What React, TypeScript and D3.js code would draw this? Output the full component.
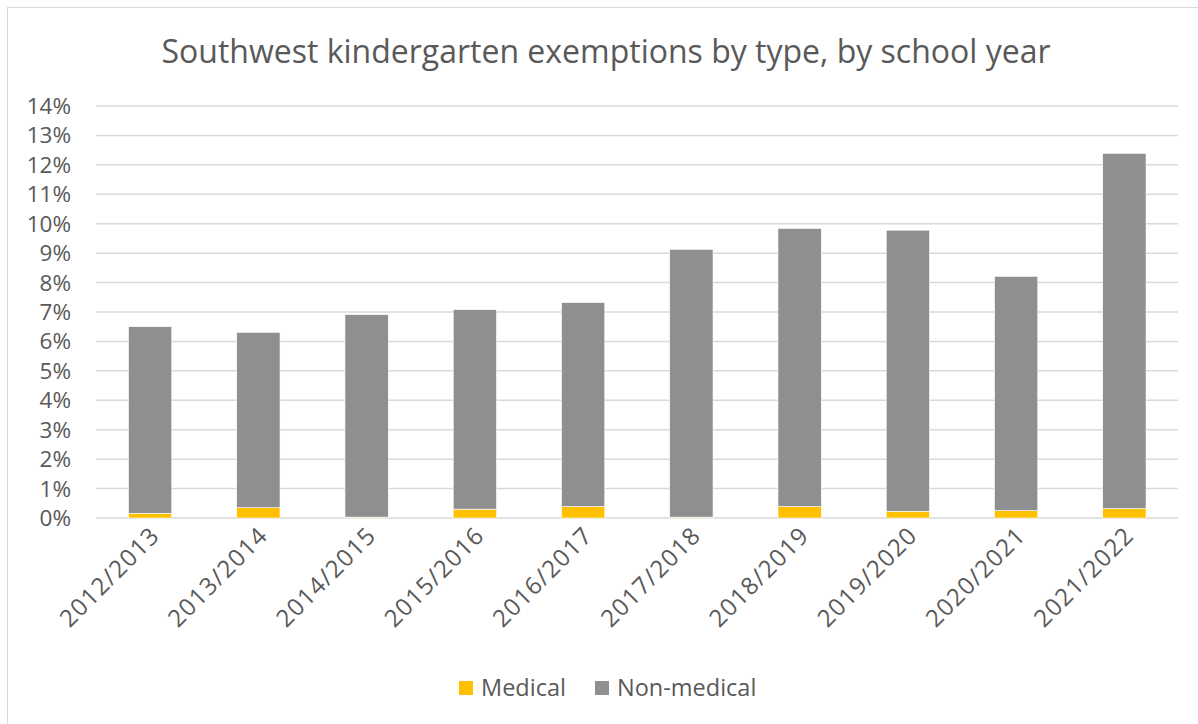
import React from "react";
import * as d3 from "d3";

const categories = ["2012/2013","2013/2014","2014/2015","2015/2016","2016/2017","2017/2018","2018/2019","2019/2020","2020/2021","2021/2022"];
const totals = [6.5, 6.31, 6.91, 7.08, 7.32, 9.13, 9.84, 9.78, 8.21, 12.39];
const medical = [0.16, 0.35, 0.03, 0.30, 0.39, 0.03, 0.39, 0.23, 0.25, 0.32];
const nonMedical = totals.map((t, i) => +(t - medical[i]).toFixed(2));
const yTicks = d3.range(0, 15);
const seriesNames = ["Medical", "Non-medical"];
const seriesColors = ["#FFC000", "#8F8F8F"];

const W = 1198, H = 724;
const FONT = "'Open Sans', 'Noto Sans', sans-serif";

export default function App() {
  const x = d3.scaleBand<string>().domain(categories).range([96, 1178.5]).paddingInner(0.6).paddingOuter(0.3);
  const y = d3.scaleLinear().domain([0, 14]).range([518, 106]);
  const rows = categories.map((c, i) => ({ cat: c, Medical: medical[i], "Non-medical": nonMedical[i] }));
  const stacked = d3.stack<any>().keys(seriesNames)(rows);

  return (
    <svg width={W} height={H} style={{ position: "absolute", left: 0, top: 0, background: "#fff" }} fontFamily={FONT}>
      <rect x={0} y={0} width={W} height={H} fill="#fff" />
      <rect x={7.5} y={7.5} width={W + 20} height={H + 20} fill="none" stroke="#d9d9d9" strokeWidth={1} />
      <text x={606} y={63} textAnchor="middle" fontSize={32} fill="#595959">Southwest kindergarten exemptions by type, by school year</text>
      {yTicks.map(t => (
        <g key={t}>
          <line x1={96} x2={1178} y1={y(t)} y2={y(t)} stroke="#d9d9d9" strokeWidth={1.5} />
          <text x={71} y={y(t) + 8} textAnchor="end" fontSize={22.5} fill="#595959">{t}%</text>
        </g>
      ))}
      {stacked.map((s, si) => (
        <g key={s.key}>
          {s.map((d, i) => (
            <rect key={i} x={x(categories[i])!} width={x.bandwidth()} y={y(d[1])} height={y(d[0]) - y(d[1])}
              fill={seriesColors[si]} stroke="#ffffff" strokeWidth={0.6} />
          ))}
        </g>
      ))}
      {categories.map(c => {
        const cx = x(c)! + x.bandwidth() / 2;
        return (
          <text key={c} transform={`translate(${cx + 11},${537}) rotate(-45)`} textAnchor="end" fontSize={24} letterSpacing={1.2} fill="#595959">{c}</text>
        );
      })}
      <g>
        <rect x={459} y={681} width={14} height={14} fill={seriesColors[0]} />
        <text x={481} y={696} fontSize={23.5} fill="#595959">{seriesNames[0]}</text>
        <rect x={595} y={681} width={14} height={14} fill={seriesColors[1]} />
        <text x={617} y={696} fontSize={23.5} fill="#595959">{seriesNames[1]}</text>
      </g>
    </svg>
  );
}
